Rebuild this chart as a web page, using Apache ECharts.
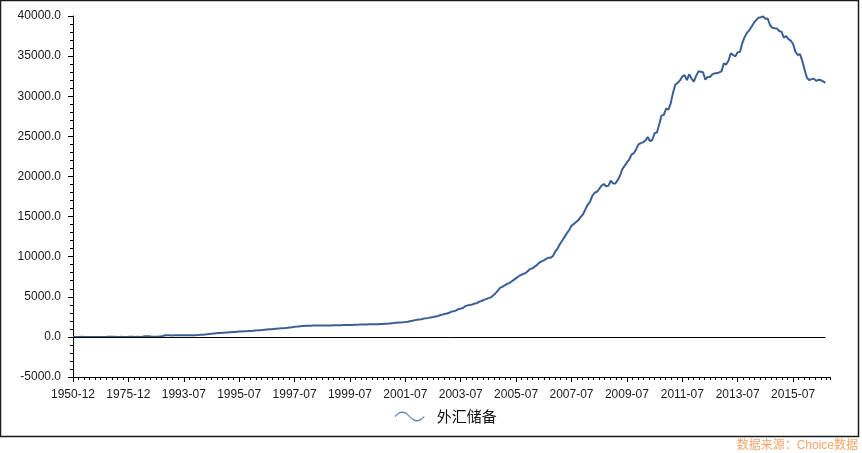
<!DOCTYPE html>
<html><head><meta charset="utf-8">
<script src="https://cdn.jsdelivr.net/npm/echarts@6/dist/echarts.min.js"></script>
<style>html,body{margin:0;padding:0;background:#fff}#c{width:862px;height:453px}</style>
</head><body><div id="c"></div>
<script>
// Annual year-end values (1950, 1952-1992), 亿美元
const annualYears = [1950,1952,1953,1954,1955,1956,1957,1958,1959,1960,1961,1962,1963,1964,1965,1966,1967,1968,1969,1970,1971,1972,1973,1974,1975,1976,1977,1978,1979,1980,1981,1982,1983,1984,1985,1986,1987,1988,1989,1990,1991,1992];
const annualValues = [1.57,1.08,0.9,0.88,1.8,1.17,1.23,0.7,1.05,0.46,0.89,0.81,1.19,1.66,1.05,2.11,2.15,2.46,4.83,0.88,0.37,2.36,-0.81,0,1.83,5.81,9.52,1.67,8.4,-12.96,27.08,69.86,89.01,82.2,26.44,20.72,29.23,33.72,55.5,110.93,217.12,194.43];
// Monthly values from 1993-01
const monthlyFirstYear = 1993;
const values1993to1999 = [
190,188,193,196,196,194,196,197,199,203,208,212,
230,252,279,300,322,360,391,420,450,472,494,516,
532,550,580,601,622,650,665,680,695,706,720,736,
760,790,813,841,870,900,920,941,960,990,1020,1050,
1062,1080,1105,1141,1180,1210,1250,1280,1300,1350,1370,1399,
1400,1403,1405,1406,1407,1407,1408,1410,1410,1411,1420,1450,
1450,1460,1465,1470,1475,1470,1474,1484,1500,1516,1530,1547];
const values2000to2007 = [
1548,1550,1569,1570,1574,1580,1587,1600,1613,1630,1641,1656,
1688,1717,1758,1800,1808,1820,1848,1880,1955,2000,2080,2122,
2157,2190,2280,2320,2370,2427,2474,2530,2586,2690,2776,2864,
2917,3006,3160,3200,3300,3465,3518,3608,3839,3934,3976,4033,
4150,4200,4398,4471,4608,4705,4830,4920,5145,5420,5740,6099,
6236,6426,6591,6703,6910,7110,7327,7533,7690,7856,7937,8189,
8451,8536,8751,8950,9250,9411,9545,9720,9879,9873,10096,10663,
11046,11573,12020,12466,12926,13326,13853,14086,14336,14548,14968,15282];
const values2008to2016 = [
15898,16471,16822,17566,17969,18088,18451,18842,19055,18790,18849,19460,
19135,19121,19537,20089,20895,21316,21746,22110,22726,22900,23400,23992,
24152,24245,24471,24905,24395,24543,25380,25483,26483,27608,27678,28473,
28316,29141,30447,31458,31661,31975,32452,32625,32017,32738,32209,31811,
32536,33100,33050,32985,32061,32400,32400,32730,32850,32870,32980,33116,
34100,33950,34427,35345,35148,34967,35478,35530,36627,37367,37895,38213,
38666,39137,39481,39788,39839,39932,39662,39688,38877,38529,38473,38430,
38134,38015,37301,37481,37111,36938,36513,35573,35141,35255,34383,33304,
32309,32023,32126,32197,31917,32052,32011,31852,31664];
const trailingLabels = ['2016-10','2016-11'];
const seriesName = '外汇储备';
const yMin = -5000, yMax = 40000, yStep = 5000;
const sourceText = '数据来源：Choice数据';

const monthlyValues = values1993to1999.concat(values2000to2007, values2008to2016);
const categories = annualYears.map(y => y + '-12');
for (let i = 0; i < monthlyValues.length; i++) {
  const y = monthlyFirstYear + Math.floor(i / 12), m = i % 12 + 1;
  categories.push(y + '-' + (m < 10 ? '0' + m : m));
}
trailingLabels.forEach(l => categories.push(l));
const values = annualValues.concat(monthlyValues);
const lastIdx = values.length - 1;
const nCat = categories.length;

const chart = echarts.init(document.getElementById('c'));
const lab = {color: '#1a1a1a', fontFamily: 'Liberation Sans, Arial, sans-serif', fontSize: 12};
chart.setOption({
  animation: false,
  backgroundColor: '#fff',
  grid: {left: 73, right: 32, top: 16, bottom: 76, containLabel: false},
  xAxis: [{
    type: 'category', data: categories, boundaryGap: false,
    axisLine: {onZero: false, lineStyle: {color: '#000', width: 1}},
    axisTick: {show: true, interval: 23, length: 5, lineStyle: {color: '#000'}},
    axisLabel: Object.assign({interval: 23, margin: 12}, lab),
    splitLine: {show: false}
  }, {
    type: 'value', min: 0, max: nCat - 1, interval: 2.4, position: 'bottom',
    axisLine: {show: false, onZero: false},
    axisTick: {show: true, length: 3, lineStyle: {color: '#000'}},
    axisLabel: {show: false}, splitLine: {show: false}
  }],
  yAxis: {
    type: 'value', min: yMin, max: yMax, interval: yStep,
    axisLine: {show: true, lineStyle: {color: '#000'}},
    axisTick: {show: true, length: 5, lineStyle: {color: '#000'}},
    minorTick: {show: true, splitNumber: 5, length: 3, lineStyle: {color: '#000'}},
    axisLabel: Object.assign({margin: 12, formatter: v => v.toFixed(1)}, lab),
    splitLine: {show: false}
  },
  legend: {
    data: [{name: seriesName, icon: 'path://M0,6 C6,-1 12,-1 18,6 C24,13 30,13 36,6 L36,7.8 C30,14.8 24,14.8 18,7.8 C12,0.8 6,0.8 0,7.8 Z'}],
    left: 395, top: 409, padding: 0, itemWidth: 34, itemHeight: 10, itemGap: 10,
    itemStyle: {color: '#6383b8'},
    textStyle: {color: '#111', fontSize: 15, fontFamily: 'Noto Sans CJK SC', padding: [0, 0, 0, 5]}
  },
  graphic: [
    {type: 'rect', shape: {x: 0.5, y: 0.5, width: 858, height: 436}, style: {fill: 'none', stroke: '#1a1a1a', lineWidth: 1.5}, silent: true},
    {type: 'text', right: 4, top: 440, style: {text: sourceText, fill: '#f5a56a', font: '12px "Liberation Sans", "Noto Sans CJK SC"'}}
  ],
  series: [{
    name: seriesName, type: 'line', data: values, xAxisIndex: 0,
    showSymbol: false, symbol: 'none',
    lineStyle: {color: '#3b5f95', width: 2}, itemStyle: {color: '#3b5f95'},
    markLine: {
      silent: true, symbol: 'none', label: {show: false},
      lineStyle: {color: '#000', width: 1, type: 'solid'},
      data: [[{coord: [0, 0]}, {coord: [lastIdx, 0]}]]
    }
  }]
});
</script></body></html>
